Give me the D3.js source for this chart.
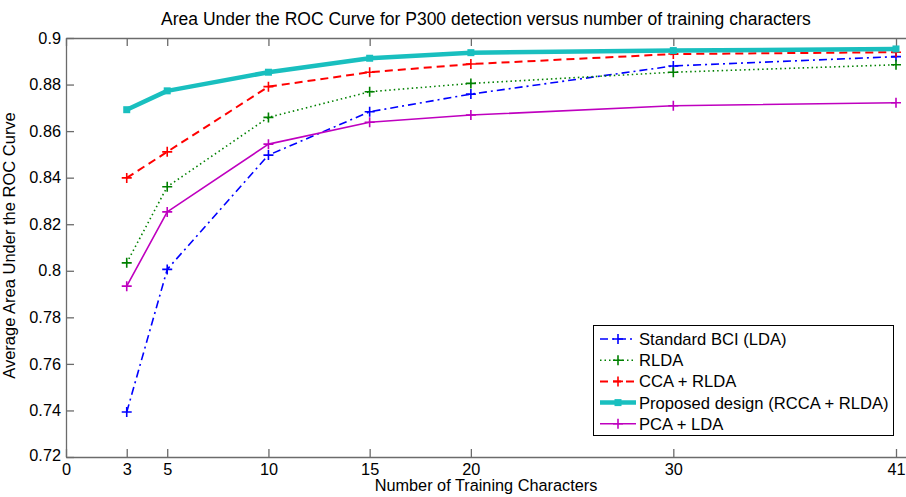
<!DOCTYPE html>
<html>
<head>
<meta charset="utf-8">
<script src="https://cdn.jsdelivr.net/npm/d3@7"></script>
<style>
  html, body { margin: 0; padding: 0; background: #fff; }
  svg { display: block; font-family: "Liberation Sans", Arial, Helvetica, sans-serif; }
</style>
</head>
<body>
<svg id="chart" width="906" height="497"></svg>
<script>
// ---- data ----
const trainingChars = [3, 5, 10, 15, 20, 30, 41];
const standardBCI = [0.7393, 0.8006, 0.8497, 0.8683, 0.8759, 0.8880, 0.8920];
const rlda        = [0.8034, 0.8361, 0.8659, 0.8769, 0.8805, 0.8853, 0.8885];
const ccaRlda     = [0.8399, 0.8511, 0.8791, 0.8853, 0.8888, 0.8931, 0.8939];
const proposed    = [0.8692, 0.8773, 0.8853, 0.8913, 0.8937, 0.8946, 0.8953];
const pcaLda      = [0.7934, 0.8253, 0.8544, 0.8638, 0.8669, 0.8709, 0.8722];
const seriesNames = ["Standard BCI (LDA)", "RLDA", "CCA + RLDA", "Proposed design (RCCA + RLDA)", "PCA + LDA"];
const xTickValues = [0, 3, 5, 10, 15, 20, 30, 41];
const yTickValues = [0.72, 0.74, 0.76, 0.78, 0.8, 0.82, 0.84, 0.86, 0.88, 0.9];
const titleText = "Area Under the ROC Curve for P300 detection versus number of training characters";
const xLabel = "Number of Training Characters";
const yLabel = "Average Area Under the ROC Curve";

const styles = [
  { color: "#0000ff", width: 1.6, dash: "8,4,2,4", marker: "plus" },
  { color: "#008000", width: 1.6, dash: "1.5,3", marker: "plus" },
  { color: "#ff0000", width: 2, dash: "8,5", marker: "plus" },
  { color: "#19bfbf", width: 4.5, dash: null, marker: "dot" },
  { color: "#bf00bf", width: 1.6, dash: null, marker: "plus" }
];
const allValues = [standardBCI, rlda, ccaRlda, proposed, pcaLda];
const series = seriesNames.map((name, i) => ({
  name, style: styles[i],
  points: trainingChars.map((x, j) => ({ x, y: allValues[i][j] }))
}));

// ---- layout ----
const svg = d3.select("#chart");
const L = 66, T = 38, R = 906.5, B = 457;
const x = d3.scaleLinear().domain([0, 41.5]).range([L, L + 41.5 * (896 - L) / 41]);
const y = d3.scaleLinear().domain([0.72, 0.9]).range([B, T]);
const axisColor = "#6b6b6b";

// title
svg.append("text").attr("x", (L + 906) / 2).attr("y", 25)
  .attr("text-anchor", "middle").attr("font-size", 17.5).attr("fill", "#000").text(titleText);

// axes
const fmt = d => String(+d.toFixed(2));
const xAxis = svg.append("g").attr("transform", `translate(0,${B})`)
  .call(d3.axisBottom(x).tickValues(xTickValues).tickSizeInner(-8).tickSizeOuter(0).tickPadding(6).tickFormat(d3.format("d")));
const xTop = svg.append("g").attr("transform", `translate(0,${T})`)
  .call(d3.axisTop(x).tickValues(xTickValues).tickSizeInner(-8).tickSizeOuter(0).tickFormat(""));
const yAxis = svg.append("g").attr("transform", `translate(${L},0)`)
  .call(d3.axisLeft(y).tickValues(yTickValues).tickSizeInner(-8).tickSizeOuter(0).tickPadding(5).tickFormat(fmt));
[xAxis, xTop, yAxis].forEach(g => {
  g.select(".domain").attr("stroke", axisColor).attr("stroke-width", 1.3);
  g.selectAll(".tick line").attr("stroke", axisColor).attr("stroke-width", 1.3);
  g.selectAll(".tick text").attr("fill", "#000").attr("font-size", 16.3)
    .attr("font-family", "'Liberation Sans', Arial, sans-serif");
});
xAxis.selectAll(".tick text").attr("dy", "0.71em").attr("y", 6);
xAxis.selectAll(".tick").filter(d => d === 0).select("text").attr("x", 0);
yAxis.selectAll(".tick").filter(d => d === 0.72).select("text").attr("dy", "0.22em");

// axis labels
svg.append("text").attr("x", (L + 906) / 2).attr("y", 491)
  .attr("text-anchor", "middle").attr("font-size", 16.3).attr("fill", "#000").text(xLabel);
svg.append("text").attr("transform", `translate(15,${(T + B) / 2 - 2}) rotate(-90)`)
  .attr("text-anchor", "middle").attr("font-size", 16.5).attr("fill", "#000").text(yLabel);

// lines
const line = d3.line().x(d => x(d.x)).y(d => y(d.y));
const plot = svg.append("g");
function drawMarker(g, cx, cy, s) {
  if (s.marker === "plus") {
    g.append("path").attr("d", `M${cx - 5},${cy}H${cx + 5}M${cx},${cy - 5}V${cy + 5}`)
      .attr("stroke", s.color).attr("stroke-width", 1.6).attr("fill", "none");
  } else {
    g.append("rect").attr("x", cx - 3.5).attr("y", cy - 3.5).attr("width", 7).attr("height", 7)
      .attr("fill", s.color);
  }
}
series.forEach(sr => {
  plot.append("path").datum(sr.points).attr("d", line)
    .attr("fill", "none").attr("stroke", sr.style.color).attr("stroke-width", sr.style.width)
    .attr("stroke-dasharray", sr.style.dash).attr("stroke-linejoin", "round");
  const mg = plot.append("g");
  sr.points.forEach(p => drawMarker(mg, x(p.x), y(p.y), sr.style));
});

// legend
const lg = svg.append("g");
lg.append("rect").attr("x", 593.5).attr("y", 325.5).attr("width", 300).attr("height", 110)
  .attr("fill", "#fff").attr("stroke", "#000").attr("stroke-width", 1);
series.forEach((sr, i) => {
  const cy = 339 + i * 21.2;
  lg.append("line").attr("x1", 600).attr("x2", 636).attr("y1", cy).attr("y2", cy)
    .attr("stroke", sr.style.color).attr("stroke-width", sr.style.width)
    .attr("stroke-dasharray", sr.style.dash);
  drawMarker(lg, 618, cy, sr.style);
  lg.append("text").attr("x", 639).attr("y", cy).attr("dy", "0.36em")
    .attr("font-size", 16.6).attr("fill", "#000").text(sr.name);
});
</script>
</body>
</html>
